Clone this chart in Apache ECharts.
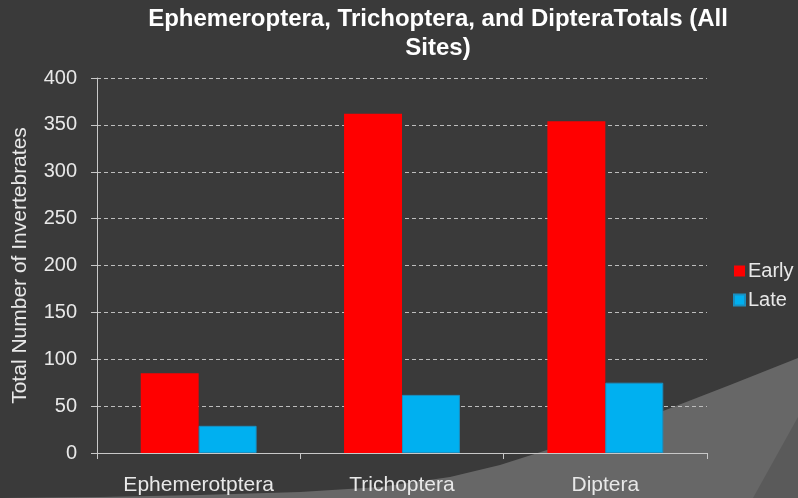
<!DOCTYPE html>
<html>
<head>
<meta charset="utf-8">
<script src="https://cdn.jsdelivr.net/npm/echarts@6/dist/echarts.min.js"></script>
<style>
  html, body { margin: 0; padding: 0; background: #3a3a3a; }
  #main { width: 798px; height: 498px; }
</style>
</head>
<body>
<div id="main"></div>
<script>
// data
var categories = ["Ephemerotptera", "Trichoptera", "Diptera"];
var early = [85, 362, 354];
var late = [29, 62, 75];

var chart = echarts.init(document.getElementById("main"));

var labelColor = "#e8e8e8";
var fontFamily = "Liberation Sans, Arial, sans-serif";

var option = {
  backgroundColor: "#3a3a3a",
  animation: false,
  // background swoosh (decoration only, not data)
  graphic: [
    {
      type: "polygon",
      z: -10,
      shape: {
        points: [[0, 498], [100, 497], [200, 495], [300, 492], [380, 487], [450, 477],
                 [500, 465], [547, 450], [600, 432], [663, 411], [730, 385], [798, 358], [798, 498]]
      },
      style: { fill: "#676767" }
    },
    {
      type: "polygon",
      z: -9,
      shape: { points: [[798, 417], [798, 498], [753, 498]] },
      style: { fill: "#5a5a5a" }
    }
  ],
  title: {
    text: "Ephemeroptera, Trichoptera, and DipteraTotals (All\nSites)",
    left: 433,
    top: 0,
    textAlign: "center",
    textStyle: {
      color: "#ffffff",
      fontSize: 24,
      fontWeight: "bold",
      fontFamily: fontFamily,
      lineHeight: 29
    }
  },
  legend: {
    data: ["Early", "Late"],
    orient: "vertical",
    left: 728,
    top: 256,
    itemWidth: 11,
    itemHeight: 11,
    itemGap: 9,
    icon: "rect",
    textStyle: { color: labelColor, fontSize: 20, fontFamily: fontFamily, padding: [0, 0, 0, -2] }
  },
  grid: {
    left: 97,
    right: 91,
    top: 78,
    bottom: 45
  },
  xAxis: {
    type: "category",
    data: categories,
    axisLine: { lineStyle: { color: "#c8c8c8", width: 1 } },
    axisTick: { show: true, length: 6, lineStyle: { color: "#c8c8c8" } },
    axisLabel: { color: labelColor, fontSize: 21, fontFamily: fontFamily, margin: 22 }
  },
  yAxis: {
    type: "value",
    min: 0,
    max: 400,
    interval: 50,
    name: "Total Number of Invertebrates",
    nameLocation: "middle",
    nameGap: 66,
    nameTextStyle: { color: labelColor, fontSize: 21, fontFamily: fontFamily },
    axisLine: { show: true, lineStyle: { color: "#c8c8c8", width: 1 } },
    axisTick: { show: true, length: 6, lineStyle: { color: "#c8c8c8" } },
    axisLabel: { color: labelColor, fontSize: 20, fontFamily: fontFamily, margin: 20 },
    splitLine: { lineStyle: { color: "#bdbdbd", type: [4, 3], width: 1 } }
  },
  series: [
    {
      name: "Early",
      type: "bar",
      data: early,
      barGap: "0%",
      barCategoryGap: "43%",
      itemStyle: { color: "#ff0000" }
    },
    {
      name: "Late",
      type: "bar",
      data: late,
      itemStyle: { color: "#00b0f0", borderColor: "#1a8fc0", borderWidth: 1 }
    }
  ]
};

chart.setOption(option);
</script>
</body>
</html>
